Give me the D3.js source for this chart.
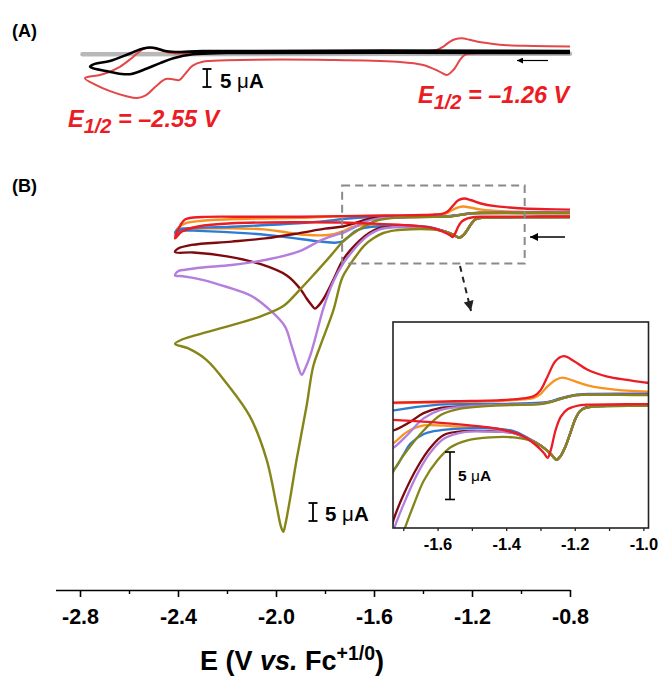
<!DOCTYPE html>
<html><head><meta charset="utf-8">
<script src="https://cdn.jsdelivr.net/npm/d3@7"></script>
<style>body{margin:0;background:#fff}</style>
</head><body>
<svg id="c" width="659" height="677" xmlns="http://www.w3.org/2000/svg"></svg>
<script>
// ---------- DATA: [E (V vs Fc), I (uA)] ----------
// Panel A
const greyA = [[-2.79, -0.6], [-0.8, -0.5]];
const redA = [
  [-0.8,-0.3],[-1.0,-0.3],[-1.2,-0.4],[-1.229,-0.8],[-1.249,-2.2],[-1.276,-5.0],[-1.303,-6.4],[-1.331,-5.5],
  [-1.399,-3.6],[-1.507,-2.7],[-1.78,-2.2],[-2.2,-2.3],[-2.30,-2.7],[-2.34,-3.8],[-2.37,-6.0],[-2.395,-7.8],
  [-2.42,-7.6],[-2.45,-7.5],[-2.49,-9.5],[-2.53,-12.0],[-2.567,-12.8],[-2.61,-12.3],[-2.68,-10.8],[-2.74,-9.0],[-2.78,-7.3],
  [-2.76,-6.8],[-2.718,-6.4],[-2.637,-4.1],[-2.582,-1.3],[-2.542,0.83],[-2.514,1.2],[-2.473,0.55],[-2.419,-0.36],
  [-2.30,-0.3],[-2.0,-0.1],[-1.6,0.0],[-1.45,0.1],[-1.38,0.3],[-1.344,0.6],[-1.317,1.5],[-1.29,2.9],[-1.266,3.6],
  [-1.242,3.8],[-1.21,3.4],[-1.181,2.9],[-1.12,2.3],[-1.058,1.9],[-0.95,1.7],[-0.8,1.5]
];
const blackA = [
  [-0.8,-0.28],[-2.2,-0.28],[-2.338,-0.64],[-2.419,-1.75],[-2.473,-3.1],[-2.542,-5.0],[-2.59,-6.1],[-2.63,-6.1],
  [-2.68,-5.5],[-2.759,-4.1],[-2.74,-3.3],[-2.678,-2.5],[-2.596,-0.4],[-2.542,1.0],[-2.501,1.2],[-2.446,0.2],
  [-2.39,0.0],[-2.3,0.25],[-0.8,0.28]
];
// Panel B
const redB = [
  [-0.80,-0.4],[-1.00,-0.45],[-1.15,-0.5],[-1.183,-0.55],[-1.221,-1.0],[-1.241,-1.8],[-1.256,-3.2],[-1.27,-5.3],
  [-1.279,-6.1],[-1.29,-5.6],[-1.319,-4.6],[-1.358,-3.7],[-1.416,-3.1],[-1.476,-2.8],[-1.60,-2.4],[-1.73,-2.1],
  [-1.91,-2.0],[-2.18,-2.3],[-2.318,-3.2],[-2.385,-4.6],[-2.412,-6.5],
  [-2.39,-2.8],[-2.37,-1.2],[-2.30,-0.55],[-2.1,-0.5],[-1.9,-0.5],[-1.73,-0.3],[-1.55,-0.15],[-1.40,0.0],
  [-1.35,0.15],[-1.319,0.4],[-1.30,1.0],[-1.28,2.4],[-1.256,4.1],[-1.232,4.6],[-1.203,4.1],[-1.164,3.2],
  [-1.105,2.45],[-1.047,2.1],[-0.989,1.8],[-0.9,1.6],[-0.8,1.5]
];
const orangeB = [
  [-0.80,-0.55],[-1.00,-0.6],[-1.14,-0.68],[-1.17,-0.85],[-1.185,-1.2],[-1.198,-2.0],[-1.212,-3.4],[-1.227,-4.9],
  [-1.241,-5.9],[-1.253,-6.3],[-1.27,-5.7],[-1.30,-4.8],[-1.338,-4.0],[-1.378,-3.4],[-1.45,-2.95],[-1.55,-2.8],
  [-1.64,-2.7],[-1.69,-3.4],[-1.73,-4.6],[-1.78,-5.5],[-1.88,-5.5],[-1.96,-4.8],[-2.05,-4.0],[-2.25,-3.7],
  [-2.37,-4.2],[-2.412,-5.5],
  [-2.40,-3.6],[-2.37,-2.3],[-2.30,-1.6],[-2.15,-1.1],[-1.90,-0.8],[-1.73,-0.35],[-1.55,-0.25],[-1.416,-0.1],
  [-1.35,0.05],[-1.319,0.2],[-1.30,0.6],[-1.28,1.4],[-1.256,2.1],[-1.236,2.35],[-1.203,2.0],[-1.16,1.5],
  [-1.076,1.05],[-0.989,0.87],[-0.80,0.7]
];
const blueB = [
  [-0.80,-0.55],[-1.00,-0.6],[-1.14,-0.68],[-1.17,-0.85],[-1.185,-1.2],[-1.198,-2.0],[-1.212,-3.4],[-1.227,-4.9],
  [-1.241,-5.9],[-1.253,-6.3],[-1.27,-5.7],[-1.30,-4.8],[-1.338,-4.0],[-1.378,-3.3],[-1.45,-3.0],[-1.55,-3.05],
  [-1.611,-3.3],[-1.64,-3.6],[-1.679,-4.6],[-1.70,-5.8],[-1.727,-7.3],[-1.76,-7.7],[-1.80,-7.5],[-1.841,-7.2],
  [-1.977,-6.0],[-2.113,-5.1],[-2.317,-4.4],[-2.39,-4.4],[-2.412,-4.9],
  [-2.40,-4.0],[-2.371,-3.7],[-2.181,-3.25],[-1.91,-2.3],[-1.80,-1.7],[-1.727,-1.1],[-1.611,-0.55],[-1.50,-0.45],
  [-1.40,-0.42],[-1.30,-0.3],[-1.27,-0.15],[-1.241,0.18],[-1.203,0.5],[-1.16,0.62],[-1.0,0.65],[-0.8,0.65]
];
const maroonB = [
  [-0.80,-0.55],[-1.00,-0.6],[-1.14,-0.68],[-1.17,-0.85],[-1.185,-1.2],[-1.198,-2.0],[-1.212,-3.4],[-1.227,-4.9],
  [-1.241,-5.9],[-1.253,-6.3],[-1.27,-5.7],[-1.30,-4.8],[-1.338,-4.1],[-1.378,-3.5],[-1.45,-3.3],[-1.523,-3.3],
  [-1.582,-3.7],[-1.62,-5.0],[-1.659,-7.1],[-1.698,-9.9],[-1.728,-12.6],[-1.766,-18],[-1.807,-23.4],[-1.828,-25.3],
  [-1.841,-26],[-1.855,-25],[-1.875,-23.2],[-1.90,-20.6],[-1.956,-16.8],[-2.065,-13.6],[-2.20,-11.5],[-2.338,-10.4],
  [-2.412,-10.3],
  [-2.399,-9.3],[-2.344,-8.3],[-2.181,-7.4],[-2.045,-6.5],[-1.909,-5.1],[-1.80,-3.8],[-1.727,-3.2],[-1.679,-2.3],
  [-1.641,-1.4],[-1.591,-0.85],[-1.495,-0.64],[-1.40,-0.5],[-1.30,-0.4],[-1.27,-0.2],[-1.241,0.1],[-1.203,0.45],
  [-1.16,0.55],[-1.0,0.58],[-0.8,0.58]
];
const purpleB = [
  [-0.80,-0.6],[-1.00,-0.62],[-1.14,-0.7],[-1.17,-0.87],[-1.185,-1.2],[-1.198,-2.0],[-1.212,-3.4],[-1.227,-4.9],
  [-1.241,-5.9],[-1.253,-6.3],[-1.27,-5.7],[-1.30,-4.8],[-1.338,-4.1],[-1.378,-3.5],[-1.45,-3.35],[-1.523,-3.4],
  [-1.582,-4.1],[-1.62,-5.5],[-1.659,-7.8],[-1.699,-11],[-1.727,-13.6],[-1.766,-18.5],[-1.807,-26],[-1.835,-33],
  [-1.86,-39],[-1.88,-42.5],[-1.895,-44.4],[-1.908,-42.5],[-1.922,-39.5],[-1.94,-35.5],[-1.963,-31],[-2.015,-27],
  [-2.10,-22.5],[-2.20,-20],[-2.30,-18],[-2.38,-17],[-2.412,-16.8],
  [-2.40,-15.6],[-2.371,-15.2],[-2.30,-14.6],[-2.181,-13.9],[-2.045,-12.5],[-1.909,-10.2],[-1.813,-6.9],
  [-1.746,-5.3],[-1.727,-5.0],[-1.688,-3.7],[-1.641,-1.95],[-1.591,-1.06],[-1.50,-0.64],[-1.40,-0.5],[-1.30,-0.4],
  [-1.27,-0.2],[-1.241,0.1],[-1.203,0.45],[-1.16,0.55],[-1.0,0.55],[-0.8,0.55]
];
const oliveB = [
  [-0.80,-0.6],[-1.00,-0.62],[-1.14,-0.7],[-1.17,-0.87],[-1.185,-1.2],[-1.198,-2.0],[-1.212,-3.4],[-1.227,-4.9],
  [-1.241,-5.9],[-1.253,-6.3],[-1.27,-5.7],[-1.30,-4.8],[-1.338,-4.2],[-1.378,-3.95],[-1.446,-3.95],[-1.513,-4.26],
  [-1.562,-5.0],[-1.601,-6.4],[-1.64,-8.5],[-1.669,-11],[-1.698,-13.8],[-1.73,-17.5],[-1.766,-26.5],[-1.82,-36.5],
  [-1.848,-42],[-1.875,-53],[-1.916,-68],[-1.943,-79],[-1.962,-86],[-1.970,-88],[-1.98,-86.5],[-1.997,-81],
  [-2.038,-68],[-2.106,-56],[-2.201,-46.8],[-2.283,-40.3],[-2.36,-37],[-2.412,-35.8],
  [-2.39,-34.8],[-2.338,-33.6],[-2.201,-31],[-2.065,-28.2],[-1.97,-25.3],[-1.909,-21.2],[-1.841,-16.2],
  [-1.773,-11],[-1.727,-7.4],[-1.688,-5.3],[-1.64,-3.2],[-1.591,-1.6],[-1.543,-1.0],[-1.446,-0.64],[-1.358,-0.53],
  [-1.30,-0.45],[-1.27,-0.25],[-1.241,0.1],[-1.203,0.45],[-1.16,0.55],[-1.0,0.5],[-0.8,0.5]
];
// axes / labels
const xTicksMain = [-2.8, -2.4, -2.0, -1.6, -1.2, -0.8];
const xTickLabelsMain = ["-2.8", "-2.4", "-2.0", "-1.6", "-1.2", "-0.8"];
const xMinorMain = [-2.6, -2.2, -1.8, -1.4, -1.0];
const xTicksInset = [-1.7, -1.6, -1.5, -1.4, -1.3, -1.2, -1.1, -1.0];
const xTickLabelsInset = ["", "-1.6", "", "-1.4", "", "-1.2", "", "-1.0"];
const zoomE = [-1.73, -0.985];
const zoomI = [8.2, -13.5];
const scaleBar = 5; // uA

// ---------- DRAW ----------
const FONT = "'Liberation Sans', Arial, Helvetica, sans-serif";
const C = {red:"#ec1c24", orange:"#f7931e", blue:"#2e7bd6", maroon:"#7f0a0e", purple:"#b47fdc",
           olive:"#858518", redA:"#e3474a", greyA:"#b8b8b8"};
const svg = d3.select("#c");
svg.append("rect").attr("width",659).attr("height",677).attr("fill","#fff");

const xMain = d3.scaleLinear().domain([-2.9, -0.8]).range([55.5, 570]);
const yA = d3.scaleLinear().domain([0, -10]).range([52, 88]);
const yB = d3.scaleLinear().domain([0, -10]).range([215, 251]);
const xIn = d3.scaleLinear().domain(zoomE).range([393, 648.5]);
const yIn = d3.scaleLinear().domain(zoomI).range([322, 528]);

const gen = (xs, ys) => d3.line().x(d => xs(d[0])).y(d => ys(d[1])).curve(d3.curveCatmullRom.alpha(0.5));

const defs = svg.append("defs");
function marker(id, w, h, color) {
  defs.append("marker").attr("id", id).attr("viewBox","0 0 10 10").attr("refX",10).attr("refY",5)
    .attr("markerWidth", w).attr("markerHeight", h).attr("markerUnits","userSpaceOnUse").attr("orient","auto")
    .append("path").attr("d","M0,0L10,5L0,10z").attr("fill", color);
}
marker("arrA", 9, 6, "#000");
marker("arrB", 11, 8, "#000");
marker("arrD", 11, 10, "#222");

// Panel A
const gA = svg.append("g");
gA.append("path").attr("d", gen(xMain,yA)(greyA)).attr("fill","none").attr("stroke",C.greyA).attr("stroke-width",4.5).attr("stroke-linecap","round");
gA.append("path").attr("d", gen(xMain,yA)(redA)).attr("fill","none").attr("stroke",C.redA).attr("stroke-width",2);
gA.append("path").attr("d", gen(xMain,yA)(blackA)).attr("fill","none").attr("stroke","#000").attr("stroke-width",2.6);

// Panel B main
const seriesB = [["orange",orangeB],["blue",blueB],["maroon",maroonB],["purple",purpleB],["olive",oliveB],["red",redB]];
const gB = svg.append("g");
seriesB.forEach(([k, d]) => {
  gB.append("path").attr("d", gen(xMain,yB)(d)).attr("fill","none").attr("stroke",C[k]).attr("stroke-width",2.4).attr("stroke-linejoin","round");
});

// dashed zoom box
svg.append("rect").attr("x", xMain(zoomE[0])).attr("y", yB(zoomI[0])).attr("width", xMain(zoomE[1]) - xMain(zoomE[0]))
  .attr("height", yB(zoomI[1]) - yB(zoomI[0])).attr("fill","none").attr("stroke","#8a8a8a").attr("stroke-width",2).attr("stroke-dasharray","8,5");

// dashed arrow to inset
svg.append("line").attr("x1",460).attr("y1",266).attr("x2",471).attr("y2",311).attr("stroke","#222").attr("stroke-width",2)
  .attr("stroke-dasharray","6,5").attr("marker-end","url(#arrD)");

// Inset
const gI = svg.append("g");
defs.append("clipPath").attr("id","clipIn").append("rect").attr("x",393).attr("y",322).attr("width",255.5).attr("height",206);
gI.append("rect").attr("x",393).attr("y",322).attr("width",255.5).attr("height",206).attr("fill","#fff");
const gIL = gI.append("g").attr("clip-path","url(#clipIn)");
seriesB.forEach(([k, d]) => {
  gIL.append("path").attr("d", gen(xIn,yIn)(d)).attr("fill","none").attr("stroke",C[k]).attr("stroke-width",2.3).attr("stroke-linejoin","round");
});
gI.append("rect").attr("x",393).attr("y",322).attr("width",255.5).attr("height",206).attr("fill","none").attr("stroke","#222").attr("stroke-width",1.6);
const axIn = gI.append("g").attr("transform","translate(0,528)")
  .call(d3.axisBottom(xIn).tickValues(xTicksInset).tickFormat((d,i) => xTickLabelsInset[i]).tickSize(3).tickSizeOuter(0).tickPadding(7));
axIn.select(".domain").remove();
axIn.selectAll(".tick line").attr("stroke","#222").attr("stroke-width",1.3);
axIn.selectAll("text").attr("font-family",FONT).attr("font-weight","bold").attr("font-size",16.5).attr("fill","#000");

// scale bars
function scaleBarDraw(x, yTop, len, serif, sw, tx, ty, fs) {
  const g = svg.append("g").attr("stroke","#000").attr("stroke-width",sw);
  g.append("line").attr("x1",x).attr("x2",x).attr("y1",yTop).attr("y2",yTop+len);
  g.append("line").attr("x1",x-serif).attr("x2",x+serif).attr("y1",yTop).attr("y2",yTop);
  g.append("line").attr("x1",x-serif).attr("x2",x+serif).attr("y1",yTop+len).attr("y2",yTop+len);
  const t = svg.append("text").attr("x",tx).attr("y",ty).attr("font-family",FONT).attr("font-weight","bold").attr("font-size",fs);
  t.append("tspan").text("5 ");
  t.append("tspan").attr("font-weight","normal").text("\u03bc");
  t.append("tspan").text("A");
}
scaleBarDraw(207, 69, yA(-scaleBar) - yA(0), 4.5, 1.8, 220, 88, 20.5);
scaleBarDraw(313, 503, yB(-scaleBar) - yB(0), 4.5, 1.8, 325, 521, 20.5);
scaleBarDraw(450, 452, yIn(-scaleBar) - yIn(0), 5, 1.6, 458, 481, 15.5);

// scan-direction arrows
svg.append("line").attr("x1",548).attr("y1",60.5).attr("x2",517).attr("y2",60.5).attr("stroke","#000").attr("stroke-width",1.2).attr("marker-end","url(#arrA)");
svg.append("line").attr("x1",565).attr("y1",237).attr("x2",530).attr("y2",237).attr("stroke","#000").attr("stroke-width",1.6).attr("marker-end","url(#arrB)");

// E1/2 labels
function e12(x, y, val) {
  const t = svg.append("text").attr("x",x).attr("y",y).attr("fill",C.red).attr("font-family",FONT)
    .attr("font-weight","bold").attr("font-style","italic").attr("font-size",23.5);
  t.append("tspan").text("E");
  t.append("tspan").attr("font-size",20).attr("dy",6).text("1/2");
  t.append("tspan").attr("dy",-6).text(" = \u2013" + val + " V");
}
e12(68, 127, "2.55");
e12(418, 103, "1.26");

// panel labels
svg.append("text").attr("x",12).attr("y",37).attr("font-family",FONT).attr("font-weight","bold").attr("font-size",18).text("(A)");
svg.append("text").attr("x",12).attr("y",192).attr("font-family",FONT).attr("font-weight","bold").attr("font-size",18).text("(B)");

// main x axis
const ax = svg.append("g").attr("transform","translate(0,590)")
  .call(d3.axisBottom(xMain).tickValues(xTicksMain).tickFormat((d,i) => xTickLabelsMain[i]).tickSize(7).tickSizeOuter(0).tickPadding(12));
ax.select(".domain").attr("stroke","#000").attr("stroke-width",1.6);
ax.selectAll(".tick line").attr("stroke","#000").attr("stroke-width",1.6);
ax.selectAll("text").attr("font-family",FONT).attr("font-weight","bold").attr("font-size",21.5).attr("fill","#000");
const axm = svg.append("g").attr("transform","translate(0,590)")
  .call(d3.axisBottom(xMain).tickValues(xMinorMain).tickFormat("").tickSize(4).tickSizeOuter(0));
axm.select(".domain").remove();
axm.selectAll(".tick line").attr("stroke","#000").attr("stroke-width",1.4);

// axis title
const tt = svg.append("text").attr("x",292).attr("y",670).attr("text-anchor","middle").attr("font-family",FONT)
  .attr("font-weight","bold").attr("font-size",27).attr("fill","#000");
tt.append("tspan").text("E (V ");
tt.append("tspan").attr("font-style","italic").text("vs.");
tt.append("tspan").text(" Fc");
tt.append("tspan").attr("font-size",19.5).attr("dy",-10).text("+1/0");
tt.append("tspan").attr("dy",10).text(")");
</script>
</body></html>
